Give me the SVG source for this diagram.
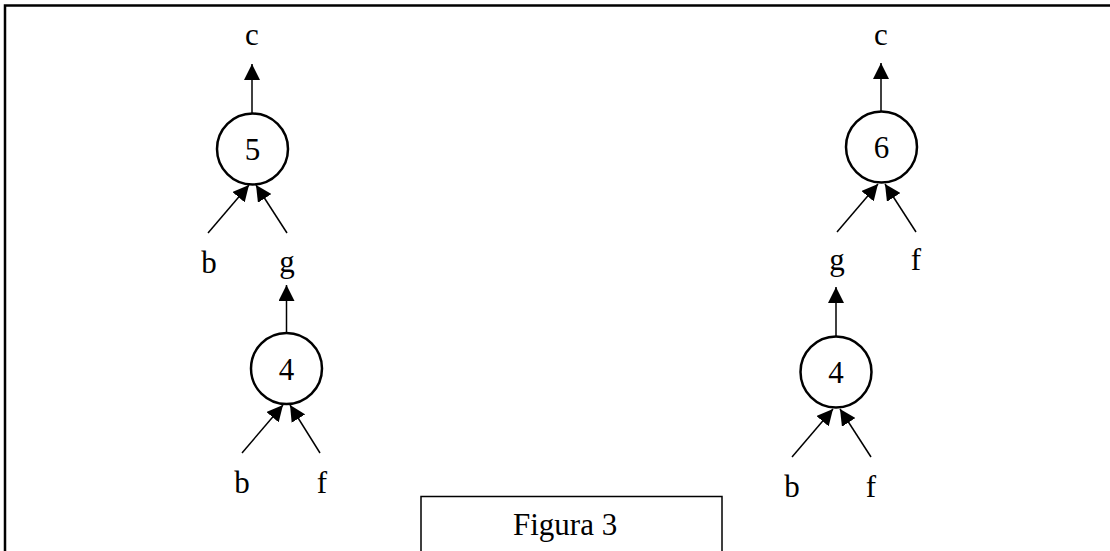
<svg xmlns="http://www.w3.org/2000/svg" width="1110" height="551" viewBox="0 0 1110 551">
<defs>
<marker id="ah" viewBox="0 0 16 16" markerUnits="userSpaceOnUse" markerWidth="16" markerHeight="16" refX="16" refY="8" orient="auto">
<path d="M0,0 L16,8 L0,16 z" fill="#000"/>
</marker>
<style>
.t{font-family:"Liberation Serif","Times New Roman",serif;font-size:31px;fill:#000;text-anchor:middle}
.n{fill:#fff;stroke:#000;stroke-width:2.5}
.e{stroke:#000;stroke-width:1.5;fill:none;marker-end:url(#ah)}
</style>
</defs>
<rect x="0" y="0" width="1110" height="551" fill="#fff"/>
<rect id="frame" x="5" y="5.5" width="1200" height="600" fill="none" stroke="#000" stroke-width="2.5"/>
<g id="connectors">
<line class="e" x1="252" y1="113" x2="252" y2="64"/>
<line class="e" x1="208" y1="233" x2="249" y2="185"/>
<line class="e" x1="287" y1="233" x2="256" y2="185"/>
<line class="e" x1="286.5" y1="333" x2="286.5" y2="285"/>
<line class="e" x1="242" y1="453" x2="283" y2="405"/>
<line class="e" x1="320" y1="453" x2="290" y2="405"/>
<line class="e" x1="881" y1="111" x2="881" y2="63"/>
<line class="e" x1="837" y1="232" x2="878" y2="184"/>
<line class="e" x1="916" y1="232" x2="885" y2="184"/>
<line class="e" x1="836" y1="337" x2="836" y2="287"/>
<line class="e" x1="792" y1="457" x2="833" y2="409"/>
<line class="e" x1="871" y1="457" x2="840" y2="409"/>
</g>
<g id="node5">
<circle class="n" cx="252.5" cy="149" r="35.5"/>
<text class="t" x="252.5" y="160">5</text>
</g>
<g id="node4a">
<circle class="n" cx="286.5" cy="368.5" r="35.5"/>
<text class="t" x="286.5" y="380">4</text>
</g>
<g id="node6">
<circle class="n" cx="881.5" cy="147" r="35.5"/>
<text class="t" x="881.5" y="158">6</text>
</g>
<g id="node4b">
<circle class="n" cx="836" cy="372" r="35.5"/>
<text class="t" x="836" y="383">4</text>
</g>
<g id="labels">
<text class="t" x="252" y="45">c</text>
<text class="t" x="209" y="273">b</text>
<text class="t" x="287" y="272">g</text>
<text class="t" x="242" y="493">b</text>
<text class="t" x="322" y="493">f</text>
<text class="t" x="881" y="45">c</text>
<text class="t" x="837" y="270">g</text>
<text class="t" x="916" y="270">f</text>
<text class="t" x="792" y="497">b</text>
<text class="t" x="871" y="497">f</text>
</g>
<g id="caption">
<rect x="421" y="496.5" width="301" height="100" fill="#fff" stroke="#000" stroke-width="1.5"/>
<text class="t" x="513" y="535" style="text-anchor:start">Figura 3</text>
</g>
</svg>
